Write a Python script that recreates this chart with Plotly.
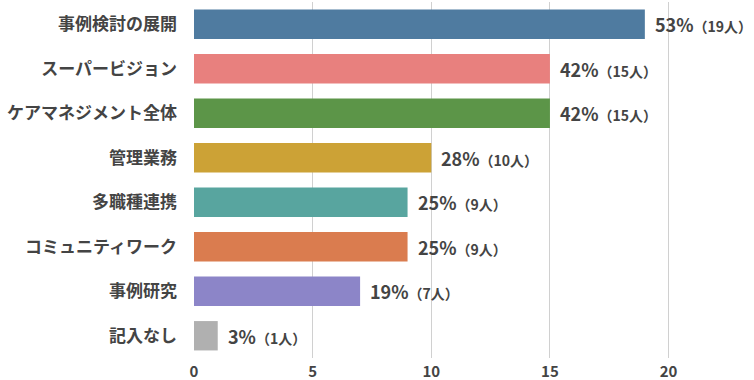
import plotly.graph_objects as go

categories = ["事例検討の展開", "スーパービジョン", "ケアマネジメント全体", "管理業務",
              "多職種連携", "コミュニティワーク", "事例研究", "記入なし"]
counts = [19, 15, 15, 10, 9, 9, 7, 1]
percents = [53, 42, 42, 28, 25, 25, 19, 3]
colors = ["#4F7BA0", "#E8807E", "#5C9548", "#CCA236", "#58A59F", "#DA7C4F", "#8C85C8", "#B0B0B0"]
x_ticks = [0, 5, 10, 15, 20]

FONT = "Noto Sans CJK JP"

fig = go.Figure()
fig.add_trace(go.Bar(
    x=counts, y=categories, orientation="h",
    marker=dict(color=colors, line=dict(width=0)),
    width=0.66, hoverinfo="skip",
))

for c, n, p in zip(categories, counts, percents):
    fig.add_annotation(
        x=n, y=c, xref="x", yref="y", xanchor="left", yanchor="middle",
        xshift=8, showarrow=False,
        text=f"<b>{p}%</b><b><span style='font-size:14px'>（{n}人）</span></b>",
        font=dict(family=FONT, size=18, color="#444444"),
    )

fig.update_layout(
    width=754, height=380,
    margin=dict(l=194, r=0, t=2, b=22, autoexpand=False),
    paper_bgcolor="white", plot_bgcolor="white",
    showlegend=False,
    font=dict(family=FONT, color="#444444"),
    bargap=0.34,
)
fig.update_xaxes(
    range=[0, 23.6], tickvals=x_ticks, ticktext=[str(v) for v in x_ticks],
    showgrid=True, gridcolor="#D0D0D0", gridwidth=1,
    zeroline=False, showline=False,
    tickfont=dict(family=FONT, size=15, color="#444444", weight="bold"),
    ticklabelstandoff=3,
)
fig.update_yaxes(
    autorange="reversed", showgrid=False, zeroline=False, showline=False,
    tickfont=dict(family=FONT, size=17, color="#444444", weight="bold"),
    ticklabelstandoff=16,
)

fig.write_html("out.html", config={"displayModeBar": False},
               post_script="document.body.style.margin='0';document.body.style.padding='0';")
